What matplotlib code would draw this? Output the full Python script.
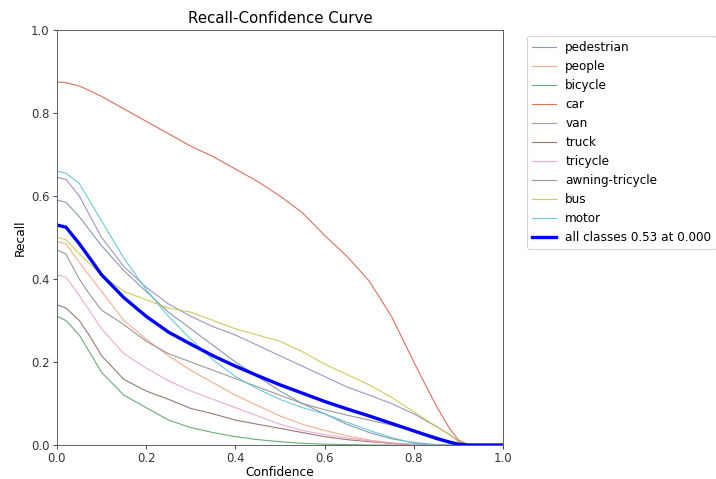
import matplotlib
matplotlib.use("Agg")
import matplotlib.pyplot as plt

conf = [0.0, 0.02, 0.05, 0.075, 0.1, 0.15, 0.2, 0.25, 0.3, 0.35, 0.4, 0.45, 0.5, 0.55, 0.6,
        0.65, 0.7, 0.75, 0.8, 0.85, 0.88, 0.9, 0.92, 0.95, 1.0]

pedestrian = [0.59, 0.585, 0.55, 0.515, 0.48, 0.42, 0.37, 0.32, 0.28, 0.24, 0.2, 0.165, 0.13, 0.1, 0.075,
              0.05, 0.03, 0.015, 0.006, 0.001, 0.0, 0.0, 0.0, 0.0, 0.0]
people = [0.49, 0.485, 0.44, 0.405, 0.37, 0.3, 0.255, 0.215, 0.18, 0.15, 0.12, 0.095, 0.07, 0.05, 0.035,
          0.022, 0.012, 0.005, 0.001, 0.0, 0.0, 0.0, 0.0, 0.0, 0.0]
bicycle = [0.31, 0.3, 0.265, 0.22, 0.175, 0.12, 0.09, 0.06, 0.042, 0.03, 0.02, 0.013, 0.008, 0.004, 0.002,
           0.001, 0.0, 0.0, 0.0, 0.0, 0.0, 0.0, 0.0, 0.0, 0.0]
car = [0.875, 0.873, 0.865, 0.853, 0.84, 0.81, 0.78, 0.75, 0.72, 0.695, 0.665, 0.635, 0.6, 0.56, 0.505,
       0.455, 0.395, 0.31, 0.2, 0.095, 0.04, 0.012, 0.002, 0.0, 0.0]
van = [0.645, 0.64, 0.6, 0.55, 0.5, 0.43, 0.38, 0.34, 0.31, 0.285, 0.265, 0.24, 0.215, 0.19, 0.165,
       0.14, 0.12, 0.1, 0.075, 0.045, 0.025, 0.01, 0.0, 0.0, 0.0]
truck = [0.338, 0.33, 0.3, 0.26, 0.215, 0.158, 0.13, 0.11, 0.088, 0.075, 0.06, 0.05, 0.04, 0.03, 0.02,
         0.013, 0.008, 0.004, 0.001, 0.0, 0.0, 0.0, 0.0, 0.0, 0.0]
tricycle = [0.41, 0.405, 0.36, 0.32, 0.28, 0.22, 0.185, 0.155, 0.13, 0.11, 0.09, 0.07, 0.05, 0.035, 0.025,
            0.017, 0.01, 0.004, 0.001, 0.0, 0.0, 0.0, 0.0, 0.0, 0.0]
awning_tricycle = [0.47, 0.46, 0.4, 0.36, 0.325, 0.29, 0.25, 0.22, 0.2, 0.18, 0.16, 0.14, 0.12, 0.1, 0.085,
                   0.072, 0.06, 0.048, 0.035, 0.02, 0.008, 0.002, 0.0, 0.0, 0.0]
bus = [0.5, 0.495, 0.46, 0.435, 0.41, 0.37, 0.35, 0.33, 0.32, 0.3, 0.28, 0.265, 0.25, 0.225, 0.195,
       0.17, 0.145, 0.115, 0.08, 0.045, 0.025, 0.008, 0.0, 0.0, 0.0]
motor = [0.66, 0.655, 0.63, 0.585, 0.54, 0.45, 0.375, 0.31, 0.255, 0.205, 0.165, 0.135, 0.11, 0.09, 0.075,
         0.055, 0.035, 0.018, 0.004, 0.0, 0.0, 0.0, 0.0, 0.0, 0.0]
all_classes = [0.53, 0.525, 0.485, 0.448, 0.41, 0.355, 0.31, 0.272, 0.243, 0.215, 0.19, 0.167, 0.145, 0.125, 0.105,
               0.087, 0.07, 0.052, 0.034, 0.016, 0.007, 0.002, 0.0, 0.0, 0.0]

names = ["pedestrian", "people", "bicycle", "car", "van", "truck", "tricycle",
         "awning-tricycle", "bus", "motor"]
series = [pedestrian, people, bicycle, car, van, truck, tricycle, awning_tricycle, bus, motor]
colors = ["#7f8fa6", "#f4a582", "#5aa469", "#d6604d", "#9a86c4", "#8c6d62", "#e7a3cf",
          "#8f8f8f", "#c8c84a", "#5ec4d6"]

plt.rcParams["font.size"] = 11

fig = plt.figure(figsize=(8.95, 5.9875), dpi=80)
ax = fig.add_axes([57/716, 1-445/479, (503-57)/716, (445-30)/479])

for name, s, c in zip(names, series, colors):
    ax.plot(conf, s, linewidth=1, label=name, color=c, alpha=0.9)
ax.plot(conf, all_classes, linewidth=3, color="blue", label="all classes 0.53 at 0.000")

ax.set_xlabel("Confidence", labelpad=1)
ax.set_ylabel("Recall")
ax.tick_params(labelsize=10.5, colors="#333333", pad=3)
ax.set_xlim(0, 1)
ax.set_ylim(0, 1)
ax.set_title("Recall-Confidence Curve", fontsize=13.5)
for sp in ax.spines.values():
    sp.set_color("#555555")
ax.legend(bbox_to_anchor=(1.04, 1), loc="upper left", fontsize=10.8)

fig.savefig("out.png", dpi=80)
